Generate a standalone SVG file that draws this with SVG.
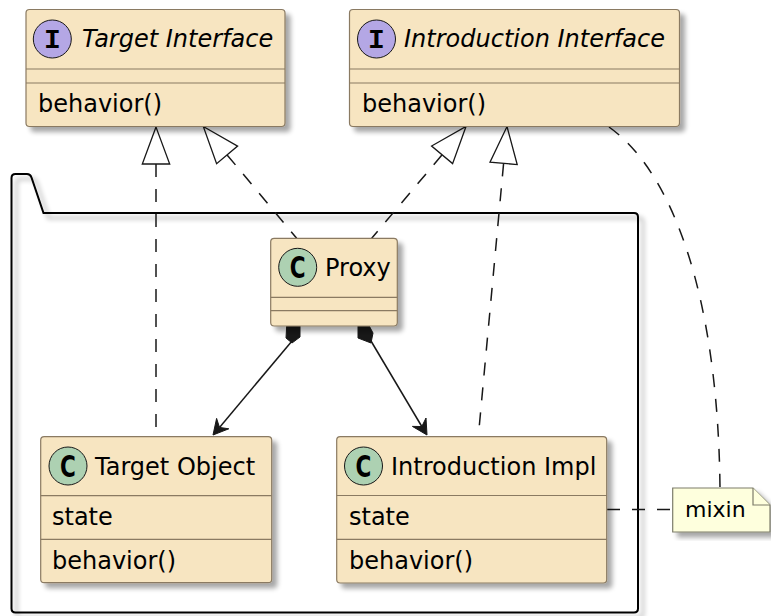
<svg xmlns="http://www.w3.org/2000/svg" width="771" height="616" viewBox="0 0 771 616">
<defs>
<filter id="sh" x="-10%" y="-10%" width="130%" height="130%">
<feGaussianBlur in="SourceAlpha" stdDeviation="2.5"/>
<feOffset dx="5" dy="5"/>
<feComponentTransfer><feFuncA type="linear" slope="0.35"/></feComponentTransfer>
<feMerge><feMergeNode/><feMergeNode in="SourceGraphic"/></feMerge>
</filter>
<style>
.box{fill:#F7E5C1;stroke:#8A7A62;stroke-width:1.2}
.sep{stroke:#8A7A62;stroke-width:1.2}
.t{font-family:"DejaVu Sans",sans-serif;font-size:24px;fill:#000}
.it{font-style:italic}
.ci{fill:#B4A7E5;stroke:#181818;stroke-width:1}
.cc{fill:#ADD1B2;stroke:#181818;stroke-width:1}
.gi{font-family:"Liberation Mono",monospace;font-weight:bold;font-size:28px;text-anchor:middle;fill:#000}
.gc{font-family:"DejaVu Sans",sans-serif;font-weight:bold;font-size:30px;text-anchor:middle;fill:#000}
.dash{fill:none;stroke:#181818;stroke-width:1.5;stroke-dasharray:13 12}
.solid{fill:none;stroke:#181818;stroke-width:1.5}
.tri{fill:#fff;stroke:#181818;stroke-width:1.3}
.head{fill:#181818;stroke:#181818;stroke-width:1}
.pkg{fill:none;stroke:#000;stroke-width:2}
.note{fill:#FEFFDD;stroke:#7C7C6A;stroke-width:1.2}
</style>
</defs>
<rect width="771" height="616" fill="#fff"/>

<g id="package">
<path class="pkg" filter="url(#sh)" d="M11.5,213 V608.5 Q11.5,612.5 15.5,612.5 H634 Q638,612.5 638,608.5 V217 Q638,213 634,213 H43.5 L31.5,177.5 Q30.3,174 27,174 H15.5 Q11.5,174 11.5,178 Z"/>
</g>

<g id="connectors">
<path class="dash" d="M156,164 V436.7"/>
<polygon class="tri" points="156,127 142.3,164 169.7,164"/>
<path class="dash" d="M227.1,154.9 L296.7,238.3"/>
<polygon class="tri" points="203.3,126.5 237.6,146.1 216.6,163.7"/>
<path class="dash" d="M442.1,154.8 L371.7,238.3"/>
<polygon class="tri" points="466,126.5 452.6,163.6 431.6,146"/>
<path class="dash" d="M503.6,163.4 L478.3,436.7"/>
<polygon class="tri" points="507,126.5 517.2,164.6 490,162.1"/>
<path class="dash" d="M609,127 C670,170 718,290 720,488"/>
<path class="dash" d="M607,509.5 H672.7"/>
<polygon class="head" points="287,320 300,320 300,337 292,343 286,338"/>
<path class="solid" d="M292,341 L219.5,427.4"/>
<polygon class="head" points="213,435 228.8,428.8 219.5,427.4 216.6,418.4"/>
<polygon class="head" points="358,320 366,320 373,333 371,343 358,338"/>
<path class="solid" d="M371,341 L421.8,426.5"/>
<polygon class="head" points="427,435 426,418 421.8,426.5 412.4,426.4"/>
</g>

<g id="target-interface">
<rect class="box" filter="url(#sh)" x="26" y="9.5" width="259" height="117" rx="3.5"/>
<line class="sep" x1="26" y1="69" x2="285" y2="69"/>
<line class="sep" x1="26" y1="83" x2="285" y2="83"/>
<circle class="ci" cx="52.3" cy="39" r="19"/>
<text class="gi" x="52.3" y="48">I</text>
<text class="t it" x="82" y="47">Target Interface</text>
<text class="t" x="38" y="112">behavior()</text>
</g>

<g id="introduction-interface">
<rect class="box" filter="url(#sh)" x="349.5" y="9.5" width="330" height="117" rx="3.5"/>
<line class="sep" x1="349.5" y1="69" x2="679.5" y2="69"/>
<line class="sep" x1="349.5" y1="83" x2="679.5" y2="83"/>
<circle class="ci" cx="376.5" cy="39" r="19"/>
<text class="gi" x="376.5" y="48">I</text>
<text class="t it" x="404" y="47">Introduction Interface</text>
<text class="t" x="362" y="112">behavior()</text>
</g>

<g id="proxy">
<rect class="box" filter="url(#sh)" x="270.7" y="238.3" width="126.6" height="87.7" rx="3.5"/>
<line class="sep" x1="270.7" y1="297.3" x2="397.3" y2="297.3"/>
<line class="sep" x1="270.7" y1="310.7" x2="397.3" y2="310.7"/>
<circle class="cc" cx="297.7" cy="267.3" r="19"/>
<text class="gc" transform="translate(297.7,267.3) scale(0.72,1)" y="11">C</text>
<text class="t" x="325" y="276">Proxy</text>
</g>

<g id="target-object">
<rect class="box" filter="url(#sh)" x="40.7" y="436.7" width="231" height="146" rx="3.5"/>
<line class="sep" x1="40.7" y1="495.7" x2="271.7" y2="495.7"/>
<line class="sep" x1="40.7" y1="539.3" x2="271.7" y2="539.3"/>
<circle class="cc" cx="68" cy="466" r="19"/>
<text class="gc" transform="translate(68,466) scale(0.72,1)" y="11">C</text>
<text class="t" x="95" y="474.5">Target Object</text>
<text class="t" x="52" y="525">state</text>
<text class="t" x="52" y="568.5">behavior()</text>
</g>

<g id="introduction-impl">
<rect class="box" filter="url(#sh)" x="336.7" y="436.7" width="270" height="146.3" rx="3.5"/>
<line class="sep" x1="336.7" y1="495.5" x2="606.7" y2="495.5"/>
<line class="sep" x1="336.7" y1="539.3" x2="606.7" y2="539.3"/>
<circle class="cc" cx="363.5" cy="466" r="19"/>
<text class="gc" transform="translate(363.5,466) scale(0.72,1)" y="11">C</text>
<text class="t" x="391" y="474.5">Introduction Impl</text>
<text class="t" x="349" y="525">state</text>
<text class="t" x="349" y="568.5">behavior()</text>
</g>

<g id="mixin-note">
<path class="note" filter="url(#sh)" d="M672.7,488 H753 L770,505 V532 H672.7 Z"/>
<path class="note" d="M753,488 V505 H770"/>
<text class="t" style="font-size:22px" x="685" y="517">mixin</text>
</g>
</svg>
